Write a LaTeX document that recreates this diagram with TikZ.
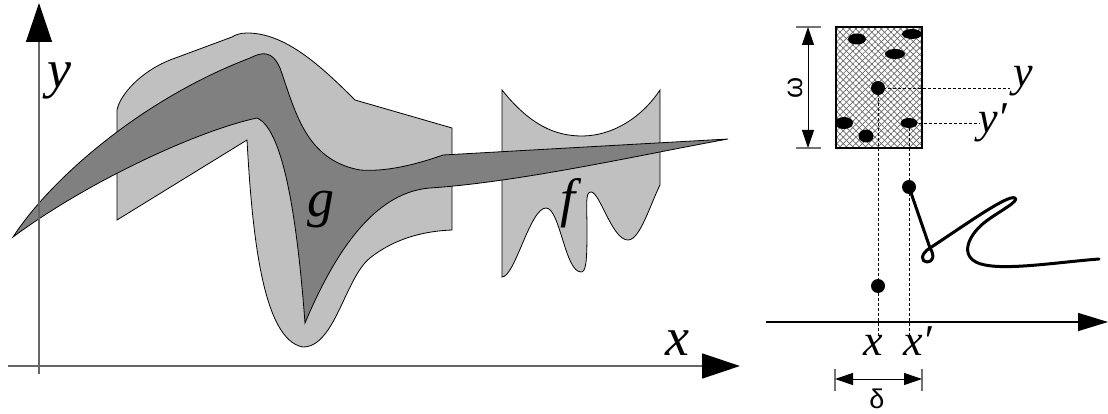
\documentclass[tikz,border=0pt]{standalone}
\usepackage{fontspec}
\setmainfont{Liberation Serif}
\newfontfamily\sansgreek{Liberation Sans}
\usetikzlibrary{arrows.meta,patterns.meta}
\definecolor{lightg}{HTML}{C0C0C0}
\definecolor{darkg}{HTML}{808080}
\begin{document}
\begin{tikzpicture}[x=1pt,y=-1pt,
  outl/.style={draw=black,line width=0.8pt},
  axisline/.style={draw=black!60,line width=1.3pt},
  biglabel/.style={font=\fontsize{54}{60}\selectfont\itshape,inner sep=0pt,anchor=base west},
  smalllabel/.style={font=\fontsize{44}{50}\selectfont\itshape,inner sep=0pt,anchor=base west},
  dimlabel/.style={font=\fontsize{27}{32}\selectfont\sansgreek,inner sep=0pt},
  blackdot/.style={circle,fill=black,inner sep=0pt,minimum size=14pt},
  guideline/.style={dash pattern=on 3pt off 2pt,line width=0.8pt},
  dimtick/.style={draw=black!55,line width=1.2pt},
  dimline/.style={line width=1pt,arrows={Triangle[length=18pt,width=12pt]-Triangle[length=18pt,width=12pt]}},
]
\useasboundingbox (0,0) rectangle (1108,414);

% light shape around g
\path[outl,fill=lightg] (117,220) -- (247,140)
  .. controls (252,230) and (262,340) .. (303,347)
  .. controls (335,347) and (345,278) .. (370,258)
  .. controls (395,238) and (425,231) .. (452,230)
  -- (452,128) -- (355,100)
  .. controls (320,65) and (285,33) .. (247,33)
  .. controls (240,33) and (235,35) .. (232,37)
  -- (170,60) .. controls (140,72) and (120,95) .. (117,110) -- cycle;

% light shape f
\path[outl,fill=lightg] (502,90)
  .. controls (530,125) and (555,136) .. (582,136)
  .. controls (610,136) and (640,120) .. (660,90)
  -- (660,185)
  .. controls (650,205) and (640,240) .. (628,240)
  .. controls (612,240) and (600,192) .. (591,192)
  .. controls (585,192) and (587,205) .. (587,230)
  .. controls (587,262) and (586,272) .. (581,272)
  .. controls (565,272) and (560,208) .. (546,208)
  .. controls (530,208) and (515,277) .. (502,277) -- cycle;

% dark band
\path[outl,fill=darkg] (13,237)
  .. controls (50,180) and (140,100) .. (250,58)
  .. controls (262,52) and (272,50) .. (280,68)
  .. controls (295,110) and (305,160) .. (360,170)
  .. controls (385,172) and (415,165) .. (443,155)
  -- (728,139)
  .. controls (640,155) and (520,182) .. (430,188)
  .. controls (380,192) and (340,240) .. (305,323)
  .. controls (298,230) and (285,130) .. (257,118)
  .. controls (200,130) and (90,180) .. (13,237) -- cycle;

% left axes
\coordinate (yb) at (39,374);
\coordinate (yt) at (39,3);
\coordinate (xl) at (8,366);
\coordinate (xr) at (740,366);
\draw[axisline,arrows={-Triangle[length=39pt,width=26pt,color=black]}] (yb) -- (yt);
\draw[axisline,arrows={-Triangle[length=38pt,width=25pt,color=black]}] (xl) -- (xr);

\node[biglabel] (ly) at (47,88) {y};
\node[biglabel] (lx) at (665,355) {x};
\node[biglabel] (lg) at (307,217) {g};
\node[biglabel] (lf) at (560,217) {f};

% right part: hatched box
\path[pattern={Lines[angle=45,distance=4.5pt,line width=0.7pt]},pattern color=black!60] (836,27) rectangle (922,148);
\path[pattern={Lines[angle=-45,distance=4.5pt,line width=0.7pt]},pattern color=black!60] (836,27) rectangle (922,148);
\draw[line width=1.2pt] (836,27) rectangle (922,148);

\fill (857,39) ellipse [x radius=9, y radius=5.5];
\fill (912,34) ellipse [x radius=10, y radius=5];
\fill (895,54) ellipse [x radius=10, y radius=5];
\fill (844,123) ellipse [x radius=9, y radius=6];
\fill (866,136) ellipse [x radius=7.5, y radius=6.5];
\fill (909,123) ellipse [x radius=8.5, y radius=5];
\coordinate (q) at (909,123);
\node[blackdot] (p) at (878,88) {};

% guides
\coordinate (pyend) at (1010,88);
\coordinate (qyend) at (980,123);
\coordinate (pxend) at (878,337);
\coordinate (qxend) at (909,337);
\draw[guideline] (p.center) -- (pyend);
\draw[guideline] (q) -- (qyend);
\draw[guideline] (p.center) -- (pxend);
\draw[guideline] (q) -- (qxend);

\node[blackdot] (d1) at (878,286) {};
\node[blackdot] (d2) at (909,187) {};

% right axis
\coordinate (ral) at (766,322);
\coordinate (rar) at (1108,322);
\draw[line width=1.3pt,arrows={-Triangle[length=30pt,width=18pt]}] (ral) -- (rar);

% curve
\draw[line width=3pt,line cap=round,line join=round] (d2.center) -- (930,248)
  .. controls (935,256) and (933,262) .. (927,262)
  .. controls (921,262) and (920,254) .. (930,248)
  .. controls (965,225) and (1008,194) .. (1015,198)
  .. controls (1020,201) and (998,212) .. (985,222)
  .. controls (966,237) and (958,260) .. (985,265)
  .. controls (1010,270) and (1060,262) .. (1099,259);

% labels
\node[smalllabel] (ry) at (1013,87) {y};
\node[smalllabel] (ryp) at (978,133) {y′};
\node[smalllabel] (rx) at (863,355) {x};
\node[smalllabel] (rxp) at (903,355) {x′};

% omega dimension
\coordinate (wt1) at (796,27); \coordinate (wt2) at (821,27);
\coordinate (wb1) at (796,148); \coordinate (wb2) at (821,148);
\draw[dimtick] (wt1) -- (wt2);
\draw[dimtick] (wb1) -- (wb2);
\coordinate (wa) at (808,27); \coordinate (wb) at (808,148);
\draw[dimline] (wa) -- (wb);
\node[dimlabel,rotate=90] (om) at (795,88) {ω};

% delta dimension
\coordinate (dl1) at (835,369); \coordinate (dl2) at (835,391);
\coordinate (dr1) at (922,369); \coordinate (dr2) at (922,391);
\draw[dimtick] (dl1) -- (dl2);
\draw[dimtick] (dr1) -- (dr2);
\coordinate (da) at (835,379); \coordinate (db) at (922,379);
\draw[dimline] (da) -- (db);
\node[dimlabel] (de) at (877,399) {δ};
\end{tikzpicture}
\end{document}
